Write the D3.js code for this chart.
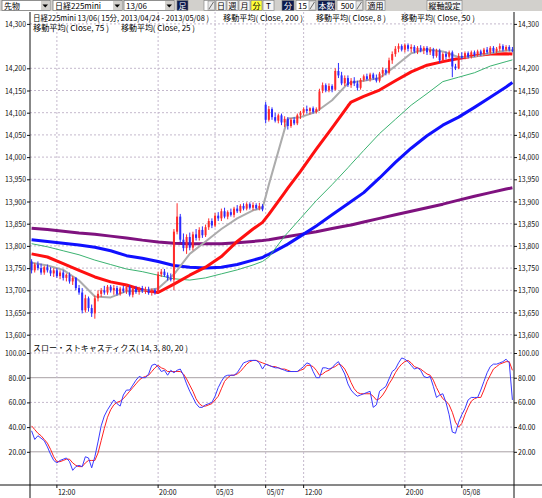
<!DOCTYPE html>
<html>
<head>
<meta charset="utf-8">
<script src="https://d3js.org/d3.v7.min.js"></script>
<style>
body { margin: 0; background: #fff; }
text { font-family: "Noto Sans CJK JP", "DejaVu Sans", sans-serif; }
</style>
</head>
<body>
<div id="chart-area"></div>
<script>
/*
*    nikkei 225 mini 15 min chart
*/

// x axis tick labels (bar index where each label sits)
const timeTickIndex = [8, 40, 58, 74, 86, 118, 136];
const timeTickLabels = ["12:00", "20:00", "05/03", "05/07", "12:00", "20:00", "05/08"];

// y axis ticks
const priceTicks = [13600, 13650, 13700, 13750, 13800, 13850, 13900, 13950, 14000, 14050, 14100, 14150, 14200, 14300];
const stochTicks = [20, 40, 60, 80, 100];

// 15 min candles
const opens = [
  13765,13745,13758,13750,13740,13752,13745,13738,13745,13732,
  13740,13728,13735,13720,13728,13705,13695,13655,13682,13660,
  13648,13682,13692,13700,13695,13708,13700,13705,13692,13704,
  13698,13708,13690,13704,13696,13705,13698,13702,13694,13700,
  13695,13736,13742,13734,13728,13724,13832,13866,13814,13795,
  13820,13796,13826,13818,13836,13824,13842,13856,13846,13868,
  13862,13878,13866,13876,13870,13884,13878,13890,13884,13894,
  13886,13892,13885,13890,14118,14084,14108,14090,14082,14094,
  14078,14086,14070,14084,14076,14094,14100,14108,14104,14110,
  14102,14108,14150,14162,14150,14160,14152,14194,14184,14166,
  14178,14162,14172,14166,14156,14174,14182,14176,14186,14178,
  14172,14188,14196,14190,14218,14232,14244,14250,14242,14252,
  14244,14248,14238,14246,14240,14246,14236,14242,14228,14240,
  14218,14232,14226,14236,14204,14200,14228,14224,14234,14226,
  14236,14230,14238,14232,14242,14236,14246,14238,14244,14250,
  14242,14248,14242];
const highs = [
  13770,13762,13765,13760,13755,13758,13752,13750,13750,13745,
  13745,13738,13740,13732,13730,13712,13705,13690,13686,13668,
  13688,13700,13705,13710,13712,13712,13712,13710,13708,13710,
  13712,13712,13708,13710,13708,13710,13708,13708,13704,13704,
  13742,13748,13748,13740,13738,13838,13896,13872,13828,13826,
  13830,13832,13838,13842,13844,13848,13862,13862,13874,13876,
  13884,13886,13880,13884,13888,13892,13894,13896,13898,13898,
  13898,13896,13897,13894,14124,14115,14112,14100,14098,14098,
  14092,14090,14088,14090,14098,14104,14112,14116,14112,14114,
  14112,14154,14168,14166,14166,14164,14200,14212,14192,14184,
  14184,14178,14180,14172,14178,14186,14188,14190,14190,14186,
  14192,14202,14200,14224,14238,14250,14256,14254,14256,14256,
  14254,14252,14250,14252,14250,14250,14248,14246,14244,14244,
  14236,14238,14240,14240,14210,14234,14236,14238,14238,14240,
  14240,14242,14242,14246,14248,14250,14250,14248,14256,14254,
  14252,14252,14248];
const lows = [
  13738,13740,13745,13735,13735,13740,13732,13730,13728,13725,
  13722,13720,13715,13712,13700,13690,13648,13650,13652,13640,
  13636,13675,13685,13690,13690,13695,13690,13688,13688,13694,
  13692,13686,13684,13692,13690,13694,13692,13690,13688,13690,
  13692,13730,13730,13722,13720,13700,13826,13808,13788,13782,
  13790,13790,13812,13812,13818,13820,13836,13840,13842,13856,
  13856,13862,13860,13866,13864,13874,13874,13880,13880,13882,
  13880,13882,13880,13878,14076,14080,14084,14078,14076,14072,
  14068,14062,14066,14072,14072,14086,14094,14098,14096,14098,
  14098,14104,14144,14146,14146,14146,14150,14178,14162,14160,
  14158,14156,14160,14150,14152,14170,14172,14170,14174,14168,
  14168,14180,14184,14186,14210,14226,14236,14238,14236,14238,
  14236,14234,14232,14236,14232,14230,14230,14222,14224,14212,
  14214,14220,14222,14180,14196,14198,14220,14220,14222,14222,
  14226,14226,14228,14228,14232,14232,14234,14234,14238,14238,
  14238,14238,14236];
const closes = [
  13745,13758,13750,13740,13752,13745,13738,13745,13732,13740,
  13728,13735,13720,13728,13705,13695,13655,13682,13660,13648,
  13682,13692,13700,13695,13708,13700,13705,13692,13704,13698,
  13708,13690,13704,13696,13705,13698,13702,13694,13700,13695,
  13736,13742,13734,13728,13724,13832,13866,13814,13795,13820,
  13796,13826,13818,13836,13824,13842,13856,13846,13868,13862,
  13878,13866,13876,13870,13884,13878,13890,13884,13894,13886,
  13892,13885,13890,13882,14084,14108,14090,14082,14094,14078,
  14086,14070,14084,14076,14094,14100,14108,14104,14110,14102,
  14108,14148,14162,14150,14160,14152,14194,14184,14166,14178,
  14162,14172,14166,14156,14174,14182,14176,14186,14178,14172,
  14188,14196,14190,14218,14232,14244,14250,14242,14252,14244,
  14248,14238,14246,14240,14246,14236,14242,14228,14240,14218,
  14232,14226,14236,14204,14200,14228,14224,14234,14226,14236,
  14230,14238,14232,14242,14236,14246,14238,14244,14250,14242,
  14248,14242,14240];

// moving averages, read at these bar indexes
const maIndex = [0,5,10,15,20,25,30,35,40,45,50,55,60,65,70,73,74,75,80,81,85,90,95,100,101,105,110,115,120,125,130,135,140,145,150,152];
const ma8 = [13762,13756,13746,13722,13686,13684,13698,13699,13704,13736,13782,13810,13838,13862,13880,13886,13911,13938,14063,14087,14090,14102,14128,14166,14168,14172,14178,14205,14234,14243,14238,14225,14226,14234,14240,14240];
const ma25 = [13782,13775,13760,13745,13730,13719,13712,13701,13695,13714,13734,13752,13776,13810,13838,13853,13862,13871,13920,13930,13968,14018,14066,14115,14124,14137,14151,14172,14192,14207,14215,14222,14228,14232,14233,14232];
const ma50 = [13805,13798,13789,13780,13768,13758,13748,13742,13734,13726,13723,13728,13737,13746,13757,13765,13770,13775,13822,13830,13862,13902,13938,13976,13984,14015,14053,14085,14117,14143,14170,14180,14190,14205,14215,14219];
const ma75 = [13814,13810,13806,13802,13797,13789,13778,13772,13765,13756,13752,13750,13752,13758,13768,13774,13778,13781,13800,13804,13822,13845,13870,13895,13900,13920,13953,13988,14020,14048,14072,14090,14112,14135,14158,14168];
const ma200 = [13840,13837,13833,13829,13826,13822,13818,13813,13809,13806,13805,13805,13805,13807,13810,13812,13813,13814,13820,13821,13826,13832,13839,13846,13847,13854,13862,13870,13878,13886,13894,13903,13912,13920,13928,13931];

// slow stochastics (14, 3)
const slowK = [
  37,30,33,31,29,24,18,13,11,13,
  14,15,12,5,8,9,8,16,15,7,
  16,28,41,49,54,58,62,59,57,66,
  70,70,74,78,81,80,80,83,90,91,
  89,85,86,82,86,84,86,87,82,75,
  69,64,59,56,56,58,59,60,65,72,
  77,81,82,82,82,84,88,92,93,94,
  94,94,92,87,91,90,89,88,88,87,
  86,85,85,85,85,87,89,92,91,85,
  80,80,88,88,87,88,91,93,88,83,
  75,70,67,65,66,67,68,69,56,58,
  69,71,73,79,85,87,92,96,95,93,
  90,87,88,86,81,80,81,73,64,66,
  67,60,50,36,35,44,50,55,62,64,
  64,64,70,77,84,89,91,91,92,93,
  95,92,62];
const slowD = [
  41,38,35,33,30,27,22,16,12,12,
  13,14,14,11,9,8,8,11,13,13,
  13,19,29,39,48,54,58,60,61,63,
  66,69,72,75,78,80,81,82,85,88,
  90,88,87,85,85,85,85,85,83,79,
  74,69,63,59,57,57,58,59,62,65,
  71,77,80,82,82,83,85,88,91,93,
  94,94,93,92,91,90,89,89,88,87,
  87,86,85,85,85,86,87,90,90,89,
  86,82,83,85,86,88,89,91,90,87,
  82,76,71,68,67,67,67,67,65,62,
  63,66,70,75,79,84,88,91,93,94,
  92,89,88,87,85,83,82,78,72,67,
  63,61,58,52,44,40,43,50,56,61,
  63,64,64,70,77,82,87,89,91,92,
  93,93,86];

const width = 542;
const height = 498;
const plotLeft = 30, plotRight = 514, plotTop = 12, plotBottom = 485;

const svg = d3.select("#chart-area")
    .append("svg")
    .attr("width", width)
    .attr("height", height);

svg.append("rect")
    .attr("width", "100%")
    .attr("height", "100%")
    .attr("fill", "white");

// scales
const x = d3.scaleBand()
    .domain(d3.range(closes.length))
    .range([plotLeft, plotRight]);
const xc = i => x(i) + x.bandwidth() / 2;

const y = d3.scaleLinear()
    .domain([13600, 14300])
    .range([334.7, 23.9]);

const ys = d3.scaleLinear()
    .domain([0, 100])
    .range([476.5, 353]);

// grid
const grid = svg.append("g");

grid.selectAll(".hgrid")
    .data(priceTicks)
    .enter().append("line")
    .attr("x1", plotLeft).attr("x2", plotRight)
    .attr("y1", d => y(d)).attr("y2", d => y(d))
    .attr("stroke", "#c4b8cc")
    .attr("stroke-dasharray", "2,2");

grid.selectAll(".sgrid")
    .data(stochTicks)
    .enter().append("line")
    .attr("x1", plotLeft).attr("x2", plotRight)
    .attr("y1", d => ys(d)).attr("y2", d => ys(d))
    .attr("stroke", d => (d == 80 || d == 20) ? "#a8a0a4" : "#c4b8cc")
    .attr("stroke-dasharray", d => (d == 80 || d == 20) ? null : "2,2");

grid.selectAll(".vgrid")
    .data(timeTickIndex)
    .enter().append("line")
    .attr("x1", d => xc(d)).attr("x2", d => xc(d))
    .attr("y1", plotTop).attr("y2", plotBottom)
    .attr("stroke", "#c4b8cc")
    .attr("stroke-dasharray", "2,2");

// moving averages
const maLine = d3.line()
    .x(d => xc(d.i))
    .y(d => y(d.v));

function drawMA(vals, color, w) {
    svg.append("path")
        .datum(maIndex.map((i, k) => ({i: i, v: vals[k]})))
        .attr("d", maLine)
        .attr("fill", "none")
        .attr("stroke", color)
        .attr("stroke-width", w)
        .attr("stroke-linejoin", "round");
}

drawMA(ma200, "#7f127f", 3);
drawMA(ma75, "#1010ff", 3);
drawMA(ma50, "#3cb371", 1);
drawMA(ma25, "#ff1010", 3);
drawMA(ma8, "#acacac", 2);

// candles
const candle = svg.append("g")
    .selectAll("g")
    .data(d3.range(closes.length))
    .enter().append("g");

const candleColor = i => closes[i] >= opens[i] ? "#ff2a2a" : "#2a2aff";

candle.append("line")
    .attr("x1", i => xc(i)).attr("x2", i => xc(i))
    .attr("y1", i => y(highs[i])).attr("y2", i => y(lows[i]))
    .attr("stroke", candleColor)
    .attr("stroke-width", 1);

candle.append("rect")
    .attr("x", i => xc(i) - 1)
    .attr("width", 2)
    .attr("y", i => y(Math.max(opens[i], closes[i])))
    .attr("height", i => Math.max(1, Math.abs(y(opens[i]) - y(closes[i]))))
    .attr("fill", candleColor);

// stochastics
const stLine = d3.line()
    .x((d, i) => xc(i))
    .y(d => ys(d));

svg.append("path")
    .datum(slowD)
    .attr("d", stLine)
    .attr("fill", "none")
    .attr("stroke", "#ff2020")
    .attr("stroke-width", 1);

svg.append("path")
    .datum(slowK)
    .attr("d", stLine)
    .attr("fill", "none")
    .attr("stroke", "#3a3aff")
    .attr("stroke-width", 1);

// axes
function squeeze(sel) {
    sel.selectAll("text")
        .attr("font-size", "8px")
        .attr("fill", "#111")
        .attr("textLength", function() { return this.textContent.length * 3.5; })
        .attr("lengthAdjust", "spacingAndGlyphs");
    sel.select(".domain").remove();
    sel.selectAll("line").attr("stroke", "#111");
}

svg.append("g")
    .attr("transform", "translate(" + plotLeft + ",0)")
    .call(d3.axisLeft(y).tickValues(priceTicks).tickFormat(d3.format(",")).tickSize(3).tickPadding(1))
    .call(squeeze);

svg.append("g")
    .attr("transform", "translate(" + plotRight + ",0)")
    .call(d3.axisRight(y).tickValues(priceTicks).tickFormat(d3.format(",")).tickSize(3).tickPadding(1))
    .call(squeeze);

svg.append("g")
    .attr("transform", "translate(" + plotLeft + ",0)")
    .call(d3.axisLeft(ys).tickValues(stochTicks).tickFormat(d3.format(".2f")).tickSize(3).tickPadding(1))
    .call(squeeze);

svg.append("g")
    .attr("transform", "translate(" + plotRight + ",0)")
    .call(d3.axisRight(ys).tickValues(stochTicks).tickFormat(d3.format(".2f")).tickSize(3).tickPadding(1))
    .call(squeeze);

const xAxisGroup = svg.append("g")
    .attr("transform", "translate(0," + plotBottom + ")")
    .call(d3.axisBottom(x).tickValues(timeTickIndex)
        .tickFormat(d => timeTickLabels[timeTickIndex.indexOf(d)])
        .tickSize(3).tickPadding(1))
    .call(squeeze);
xAxisGroup.selectAll("text")
    .attr("text-anchor", "start")
    .attr("dx", 1);

// frame lines
svg.append("line").attr("x1", plotLeft).attr("x2", plotLeft).attr("y1", plotTop).attr("y2", height).attr("stroke", "#111");
svg.append("line").attr("x1", plotRight).attr("x2", plotRight).attr("y1", plotTop).attr("y2", height).attr("stroke", "#111");
svg.append("line").attr("x1", 0).attr("x2", width).attr("y1", plotBottom).attr("y2", plotBottom).attr("stroke", "#111");

// legend texts
function label(tx, ty, str, len) {
    svg.append("text")
        .attr("x", tx).attr("y", ty)
        .attr("font-size", "8px")
        .attr("fill", "#000")
        .attr("textLength", len)
        .attr("lengthAdjust", "spacingAndGlyphs")
        .text(str);
}

label(33, 21, "日経225mini 13/06( 15分, 2013/04/24 - 2013/05/08 )", 176);
label(223, 21, "移動平均( Close, 200 )", 80);
label(316, 21, "移動平均( Close, 8 )", 70);
label(401, 21, "移動平均( Close, 50 )", 74);
label(33, 30.5, "移動平均( Close, 75 )", 76);
label(121, 30.5, "移動平均( Close, 25 )", 74);
label(33, 350.5, "スロー・ストキャスティクス( 14, 3, 80, 20 )", 155);

// toolbar
const bar = svg.append("g");

bar.append("rect")
    .attr("width", width)
    .attr("height", 11)
    .attr("fill", "#d2d0cc");

function barText(tx, ty, str, color) {
    bar.append("text")
        .attr("x", tx).attr("y", ty)
        .attr("font-size", "8px")
        .attr("fill", color)
        .text(str);
}

function dropdown(x0, x1, str) {
    bar.append("rect").attr("x", x0).attr("y", 0.5).attr("width", x1 - x0).attr("height", 10)
        .attr("fill", "white").attr("stroke", "#7a7a7a").attr("stroke-width", 0.8);
    bar.append("rect").attr("x", x1 - 9).attr("y", 1).attr("width", 8.5).attr("height", 9).attr("fill", "#d2d0cc");
    bar.append("path").attr("d", "M" + (x1 - 7.5) + ",4.5 L" + (x1 - 2) + ",4.5 L" + (x1 - 4.75) + ",7.5 Z").attr("fill", "#000");
    barText(x0 + 2, 8.5, str, "#000");
}

function button(x0, x1, str, fill, color) {
    bar.append("rect").attr("x", x0).attr("y", 0.5).attr("width", x1 - x0).attr("height", 10)
        .attr("fill", fill).attr("stroke", "#7a7a7a").attr("stroke-width", 0.6);
    bar.append("text").attr("x", (x0 + x1) / 2).attr("y", 8.6)
        .attr("font-size", "8px").attr("text-anchor", "middle").attr("fill", color).text(str);
}

function spinInput(x0, x1, str) {
    bar.append("rect").attr("x", x0).attr("y", 0.5).attr("width", x1 - x0).attr("height", 10)
        .attr("fill", "white").attr("stroke", "#7a7a7a").attr("stroke-width", 0.6);
    bar.append("text").attr("x", x1 - 9).attr("y", 8.6)
        .attr("font-size", "8px").attr("text-anchor", "end").attr("fill", "#000").text(str);
    bar.append("rect").attr("x", x1 - 7).attr("y", 1).attr("width", 6.5).attr("height", 9)
        .attr("fill", "#e8e8e8").attr("stroke", "#7a7a7a").attr("stroke-width", 0.5);
    bar.append("path").attr("d", "M" + (x1 - 6) + ",9 L" + (x1 - 1.5) + ",2").attr("stroke", "#333").attr("stroke-width", 0.7);
}

dropdown(2, 50, "先物");
dropdown(53, 122, "日経225mini");
dropdown(124, 174, "13/06");
button(177, 188, "足", "#0c1a4e", "#fff");
spinInput(204, 215, "");
button(216, 226, "日", "#f4f4f4", "#000");
button(227, 238, "週", "#f4f4f4", "#000");
button(239, 250, "月", "#f4f4f4", "#000");
button(251, 262, "分", "#ffff3a", "#000");
button(263, 274, "T", "#f4f4f4", "#000");
button(282, 294, "分", "#0c1a4e", "#fff");
spinInput(296, 316, "15");
button(318, 335, "本数", "#0c1a4e", "#fff");
spinInput(337, 363, "500");
button(366, 385, "適用", "#f4f4f4", "#000");
button(427, 462, "縦軸設定", "#f4f4f4", "#000");
</script>
</body>
</html>
